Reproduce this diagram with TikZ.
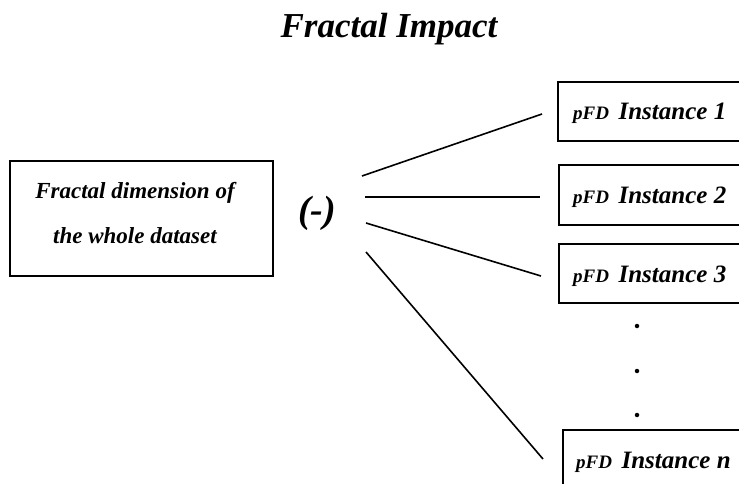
\documentclass[tikz,border=0pt]{standalone}
\usepackage{fontspec}
\setmainfont{Liberation Serif}
\begin{document}
\begin{tikzpicture}[x=1pt,y=-1pt,
  box/.style={draw,line width=1.6pt,inner sep=0pt},
  conn/.style={line width=1.6pt},
  inst/.style={anchor=base west,inner sep=0pt,font=\bfseries\itshape},
  dotmark/.style={fill,circle,inner sep=0pt,minimum size=4.5pt}]
\useasboundingbox (0,0) rectangle (739,484);
\clip (0,0) rectangle (739,484);
\node[inner sep=0pt,anchor=base,font=\fontsize{35}{40}\selectfont\bfseries\itshape] (title) at (389,38) {Fractal Impact};
% left box
\node[box,minimum width=263pt,minimum height=115pt] (whole) at (141.5,218.5) {};
\node[inner sep=0pt,anchor=base,font=\fontsize{23}{26}\selectfont\bfseries\itshape] (l1) at (135,198) {Fractal dimension of};
\node[inner sep=0pt,anchor=base,font=\fontsize{23}{26}\selectfont\bfseries\itshape] (l2) at (135,243) {the whole dataset};
% minus
\node[inner sep=0pt,font=\fontsize{38}{40}\selectfont\bfseries\itshape] (minus) at (317,213) {(-)};
% right boxes
\node[box,minimum width=187pt,minimum height=59pt] (b1) at (651.5,111.5) {};
\node[box,minimum width=186pt,minimum height=60pt] (b2) at (652,195) {};
\node[box,minimum width=186pt,minimum height=59pt] (b3) at (652,273.5) {};
\node[box,minimum width=182pt,minimum height=60pt] (bn) at (654,460) {};
\node[inst] (t1) at (573,120) {\fontsize{19}{22}\selectfont pFD\hspace{0.5em}\fontsize{25}{28}\selectfont Instance 1};
\node[inst] (t2) at (573,203) {\fontsize{19}{22}\selectfont pFD\hspace{0.5em}\fontsize{25}{28}\selectfont Instance 2};
\node[inst] (t3) at (573,282) {\fontsize{19}{22}\selectfont pFD\hspace{0.5em}\fontsize{25}{28}\selectfont Instance 3};
\node[inst] (tn) at (576,468) {\fontsize{19}{22}\selectfont pFD\hspace{0.5em}\fontsize{25}{28}\selectfont Instance n};
% dots
\node[dotmark] (d1) at (637,326) {};
\node[dotmark] (d2) at (637,371) {};
\node[dotmark] (d3) at (637,415) {};
% connectors
\coordinate (s1) at (362,176); \coordinate (e1) at (542,114);
\coordinate (s2) at (365,197); \coordinate (e2) at (540,197);
\coordinate (s3) at (366,223); \coordinate (e3) at (541,276);
\coordinate (s4) at (366,252); \coordinate (e4) at (543,459);
\draw[conn] (s1) -- (e1);
\draw[conn] (s2) -- (e2);
\draw[conn] (s3) -- (e3);
\draw[conn] (s4) -- (e4);
\end{tikzpicture}
\end{document}
